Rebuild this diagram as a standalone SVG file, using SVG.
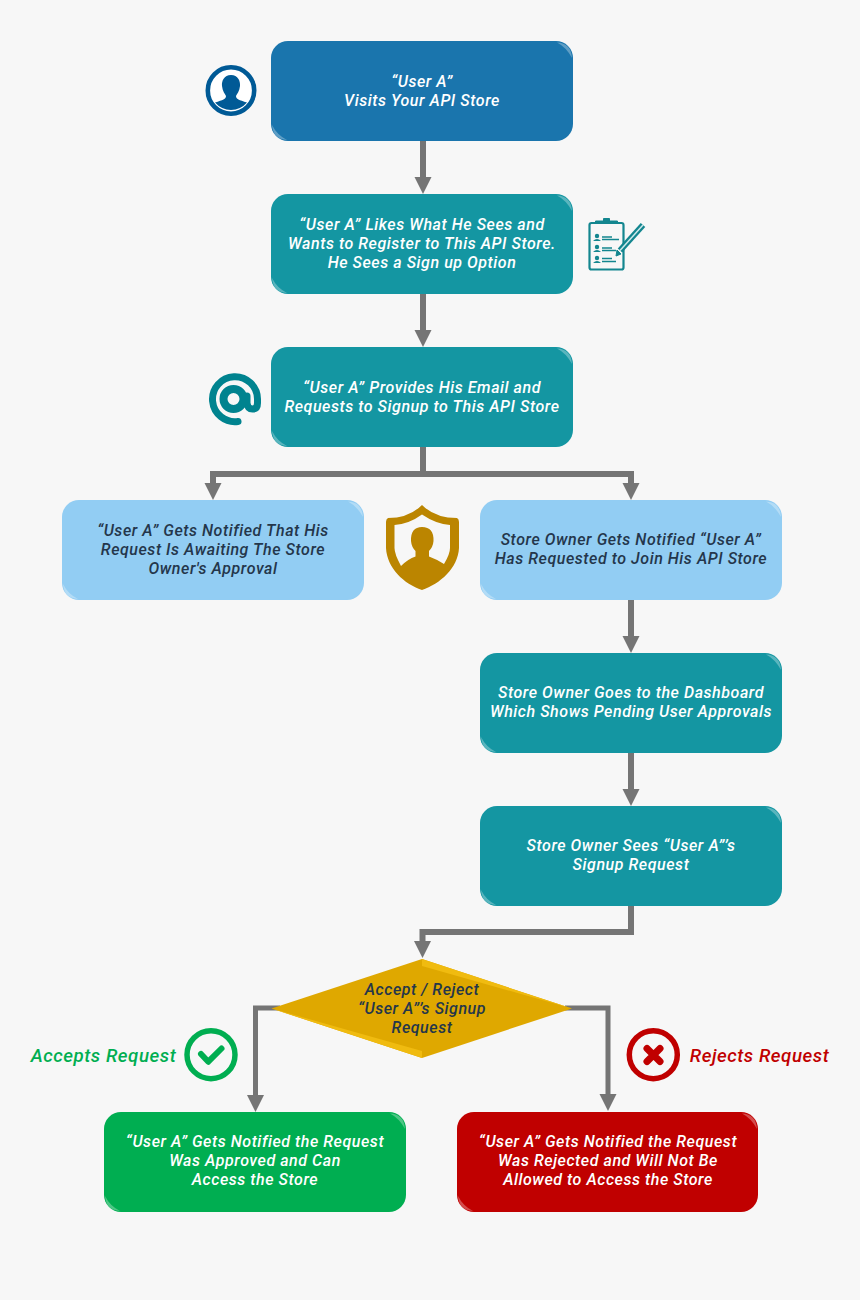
<svg xmlns="http://www.w3.org/2000/svg" width="860" height="1300" viewBox="0 0 860 1300">
<style>
text{font-family:Roboto,"Open Sans",sans-serif;font-style:italic;font-weight:500;font-size:16px;letter-spacing:.55px;text-anchor:middle}
.w{fill:#fff}.d{fill:#24364b}
.c{fill:none;stroke:#757575;stroke-width:6}
.t{stroke-width:5}
.a{fill:#757575}
.gl{fill:#fff;fill-opacity:.3}
.g{fill:#00ae51;font-size:18.700px}.r{fill:#c00000;font-size:18.700px}
</style>
<defs>
<path id="tr" class="gl" d="M-16 1.500Q-2 2 -1 17Q-7 6 -16 1.500Z"/>
<path id="bl" class="gl" d="M1 -16Q2 -2 16 -1Q6 -6 1 -16Z"/>
<path id="arr" class="a" d="M-8.500 -17H8.500L0 0Z"/>
</defs>
<rect width="860" height="1300" fill="#f7f7f7"/>
<g id="connectors">
<path class="c" d="M423 141V178"/><use href="#arr" x="423" y="194"/>
<path class="c" d="M423 294V331"/><use href="#arr" x="423" y="347"/>
<path class="c" d="M423 447V474M213 484V474H631V484"/><use href="#arr" x="213" y="500"/><use href="#arr" x="631" y="500"/>
<path class="c" d="M631 600V637"/><use href="#arr" x="631" y="653"/>
<path class="c" d="M631 753V790"/><use href="#arr" x="631" y="806"/>
<path class="c" d="M631 906V932H422.500V943"/><use href="#arr" x="422.500" y="958"/>
<path class="c t" d="M280 1008H255.500V1096"/><use href="#arr" x="255.500" y="1112"/>
<path class="c t" d="M565 1008H608V1096"/><use href="#arr" x="608" y="1111"/>
</g>
<g id="n1"><rect x="271" y="41" width="302" height="100" rx="17" fill="#1a75ad"/><use href="#tr" x="573" y="41"/><use href="#bl" x="271" y="141"/><text class="w" y="87"><tspan x="422">“User A”</tspan><tspan x="422" dy="19">Visits Your API Store</tspan></text></g>
<g id="n2"><rect x="271" y="194" width="302" height="100" rx="17" fill="#1496a2"/><use href="#tr" x="573" y="194"/><use href="#bl" x="271" y="294"/><text class="w" y="230"><tspan x="422">“User A” Likes What He Sees and</tspan><tspan x="422" dy="19">Wants to Register to This API Store.</tspan><tspan x="422" dy="19">He Sees a Sign up Option</tspan></text></g>
<g id="n3"><rect x="271" y="347" width="302" height="100" rx="17" fill="#1496a2"/><use href="#tr" x="573" y="347"/><use href="#bl" x="271" y="447"/><text class="w" y="393"><tspan x="422">“User A” Provides His Email and</tspan><tspan x="422" dy="19">Requests to Signup to This API Store</tspan></text></g>
<g id="n4"><rect x="62" y="500" width="302" height="100" rx="17" fill="#92cdf3"/><use href="#tr" x="364" y="500"/><use href="#bl" x="62" y="600"/><text class="d" y="536"><tspan x="213">“User A” Gets Notified That His</tspan><tspan x="213" dy="19">Request Is Awaiting The Store</tspan><tspan x="213" dy="19">Owner's Approval</tspan></text></g>
<g id="n5"><rect x="480" y="500" width="302" height="100" rx="17" fill="#92cdf3"/><use href="#tr" x="782" y="500"/><use href="#bl" x="480" y="600"/><text class="d" y="545"><tspan x="631">Store Owner Gets Notified “User A”</tspan><tspan x="631" dy="19">Has Requested to Join His API Store</tspan></text></g>
<g id="n6"><rect x="480" y="653" width="302" height="100" rx="17" fill="#1496a2"/><use href="#tr" x="782" y="653"/><use href="#bl" x="480" y="753"/><text class="w" y="698"><tspan x="631">Store Owner Goes to the Dashboard</tspan><tspan x="631" dy="19">Which Shows Pending User Approvals</tspan></text></g>
<g id="n7"><rect x="480" y="806" width="302" height="100" rx="17" fill="#1496a2"/><use href="#tr" x="782" y="806"/><use href="#bl" x="480" y="906"/><text class="w" y="851"><tspan x="631">Store Owner Sees “User A”’s</tspan><tspan x="631" dy="19">Signup Request</tspan></text></g>
<g id="n8"><path d="M422 959L572 1008.500L422 1058L271.500 1008.500Z" fill="#dfa800"/><path d="M422 959L572 1008.500L422 966ZM422 1058L271.500 1008.500L422 1051Z" fill="#f0bb10"/><text class="d" y="995"><tspan x="422">Accept / Reject</tspan><tspan x="422" dy="19">“User A”’s Signup</tspan><tspan x="422" dy="19">Request</tspan></text></g>
<g id="n9"><rect x="104" y="1112" width="302" height="100" rx="17" fill="#00ae51"/><use href="#tr" x="406" y="1112"/><use href="#bl" x="104" y="1212"/><text class="w" y="1147"><tspan x="255">“User A” Gets Notified the Request</tspan><tspan x="255" dy="19">Was Approved and Can</tspan><tspan x="255" dy="19">Access the Store</tspan></text></g>
<g id="n10"><rect x="457" y="1112" width="301" height="100" rx="17" fill="#c00000"/><use href="#tr" x="758" y="1112"/><use href="#bl" x="457" y="1212"/><text class="w" y="1147"><tspan x="608">“User A” Gets Notified the Request</tspan><tspan x="608" dy="19">Was Rejected and Will Not Be</tspan><tspan x="608" dy="19">Allowed to Access the Store</tspan></text></g>
<g id="icon-user"><circle cx="231" cy="90.500" r="23.200" fill="#fff" stroke="#005a96" stroke-width="4.600"/><path d="M231 75C238 75 240.500 81 240 86C239.500 91 237 94 236 96C236 99 239 100 247 102.500A21 21 0 0 1 215 102.500C223 100 226 99 226 96C225 94 222.500 91 222 86C221.500 81 224 75 231 75Z" fill="#005a96"/></g>
<g id="icon-form" fill="none" stroke="#13868f"><rect x="589.500" y="223" width="34" height="46.500" rx="2" stroke-width="2.200"/><path d="M595.500 223.500V221H603.500V218.500H609.500V221H617.500V223.500Z" fill="#13868f" stroke-width="1"/><g stroke-width="1.300"><path d="M602 237H612M602 239.500H619M602 248H612M602 250.500H616M602 258.500H612M602 261.500H616"/></g><g fill="#13868f" stroke="none"><circle cx="597" cy="236" r="2.200"/><path d="M593 241Q597 237 601 241Z"/><circle cx="597" cy="247" r="2.200"/><path d="M593 252Q597 248 601 252Z"/><circle cx="597" cy="258" r="2.200"/><path d="M593 263Q597 259 601 263Z"/></g><path d="M620 250.500L643 225" stroke-width="6"/><path d="M620 250.500L643 225" stroke="#cfe9eb" stroke-width="1.500"/><path d="M621 254L616 256L617 250Z" fill="#13868f" stroke-width="1"/></g>
<g id="icon-at"><path d="M238 421.500A22.500 22.500 0 1 1 257.500 399V403Q257.500 409 252.500 409Q247.500 409 247 403V396" fill="none" stroke="#00838f" stroke-width="7" stroke-linecap="round"/><circle cx="233.500" cy="399" r="10" fill="none" stroke="#00838f" stroke-width="8"/></g>
<g id="icon-shield"><path d="M422 505Q435 518 457 518Q459 519 459 522V548C458 568 440 584 422 590C404 584 387 568 386 548V522Q386 519 388 518Q409 518 422 505Z" fill="#bb8500"/><path d="M422 514.500Q436 524 450 525V548Q450 554 444 564Q436 559 429 556.500V551Q433 547 433.500 541Q434 527 422 527Q410.500 527 411 541Q411.500 547 415.500 551V556.500Q408 559 401 566Q394.500 554 394.500 548V525Q409 524 422 514.500Z" fill="#f7f7f7"/></g>
<g id="label-accept"><text class="g" x="103.500" y="1062">Accepts Request</text></g>
<g id="icon-check"><circle cx="211" cy="1054.700" r="24" fill="none" stroke="#00ae51" stroke-width="5.500"/><path d="M201 1054L208.300 1061.700L221.500 1048.500" fill="none" stroke="#00ae51" stroke-width="6" stroke-linecap="round" stroke-linejoin="round"/></g>
<g id="icon-cross"><circle cx="653.300" cy="1054.700" r="24" fill="none" stroke="#c00000" stroke-width="5.500"/><path d="M647 1048.500L660 1061.500M660 1048.500L647 1061.500" fill="none" stroke="#c00000" stroke-width="7" stroke-linecap="round"/></g>
<g id="label-reject"><text class="r" x="759.500" y="1062">Rejects Request</text></g>
</svg>
